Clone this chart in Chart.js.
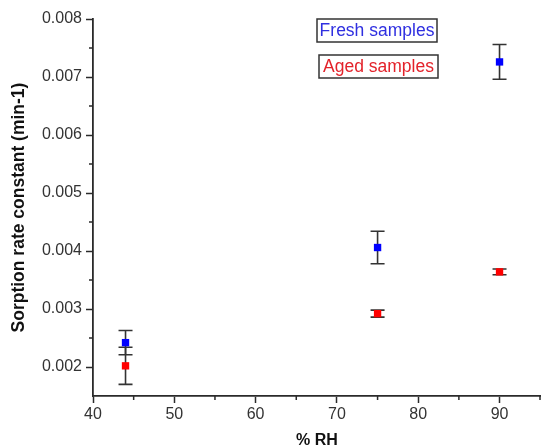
<!DOCTYPE html>
<html>
<head>
<meta charset="utf-8">
<script src="https://cdn.jsdelivr.net/npm/chart.js@4/dist/chart.umd.min.js"></script>
<style>
  html, body { margin: 0; padding: 0; background: #fff; }
  #wrap { width: 541px; height: 448px; position: relative; }
</style>
</head>
<body>
<div id="wrap"><canvas id="c" width="541" height="448"></canvas></div>
<script>
// ---- data ----
const rhValues   = [44, 75, 90];
const freshRate  = [0.00242, 0.00406, 0.00726];
const freshError = [0.00021, 0.00028, 0.00030];
const agedRate   = [0.00202, 0.00292, 0.00364];
const agedError  = [0.00032, 0.00006, 0.00005];
const xTickValues = [40, 50, 60, 70, 80, 90];
const xMinorTicks = [45, 55, 65, 75, 85, 95];
const yTickValues = [0.002, 0.003, 0.004, 0.005, 0.006, 0.007, 0.008];
const yMinorTicks = [0.0025, 0.0035, 0.0045, 0.0055, 0.0065, 0.0075];
const seriesNames = ['Fresh samples', 'Aged samples'];

const AXIS = '#2a2a2a';
const FONT = "'Liberation Sans', Arial, Helvetica, sans-serif";

const errorBars = {
  id: 'errorBars',
  beforeDatasetsDraw(chart) {
    const ctx = chart.ctx;
    const xs = chart.scales.x, ys = chart.scales.y;
    ctx.save();
    ctx.strokeStyle = '#333';
    ctx.lineWidth = 1.6;
    chart.data.datasets.forEach(ds => {
      ds.data.forEach((p, i) => {
        const x = xs.getPixelForValue(p.x);
        const yTop = ys.getPixelForValue(p.y + ds.errors[i]);
        const yBot = ys.getPixelForValue(p.y - ds.errors[i]);
        const half = 7;
        ctx.beginPath();
        ctx.moveTo(x, yTop); ctx.lineTo(x, yBot);
        ctx.moveTo(x - half, yTop); ctx.lineTo(x + half, yTop);
        ctx.moveTo(x - half, yBot); ctx.lineTo(x + half, yBot);
        ctx.stroke();
      });
    });
    ctx.restore();
  }
};

const minorTicks = {
  id: 'minorTicks',
  afterDraw(chart) {
    const ctx = chart.ctx;
    const xs = chart.scales.x, ys = chart.scales.y;
    ctx.save();
    ctx.strokeStyle = AXIS;
    ctx.lineWidth = 1.5;
    ctx.beginPath();
    xMinorTicks.forEach(v => {
      const px = Math.min(xs.getPixelForValue(v), chart.width - 1);
      ctx.moveTo(px, xs.top); ctx.lineTo(px, xs.top + 4);
    });
    yMinorTicks.forEach(v => {
      const py = ys.getPixelForValue(v);
      ctx.moveTo(ys.right, py); ctx.lineTo(ys.right - 4, py);
    });
    ctx.stroke();
    ctx.restore();
  }
};

const boxLegend = {
  id: 'boxLegend',
  afterDraw(chart) {
    const ctx = chart.ctx;
    const boxes = [
      { x: 317, y: 19, w: 120, h: 23 },
      { x: 319, y: 55, w: 119, h: 23 }
    ];
    ctx.save();
    ctx.font = '17.5px ' + FONT;
    ctx.textBaseline = 'middle';
    ctx.textAlign = 'center';
    chart.data.datasets.forEach((ds, i) => {
      const b = boxes[i];
      ctx.fillStyle = '#fff';
      ctx.fillRect(b.x, b.y, b.w, b.h);
      ctx.strokeStyle = '#333';
      ctx.lineWidth = 1.5;
      ctx.strokeRect(b.x, b.y, b.w, b.h);
      ctx.fillStyle = ds.textColor;
      ctx.fillText(ds.label, b.x + b.w / 2, b.y + b.h / 2 + 1);
    });
    ctx.restore();
  }
};

new Chart(document.getElementById('c'), {
  type: 'scatter',
  data: {
    datasets: [
      {
        label: seriesNames[0],
        data: rhValues.map((x, i) => ({ x, y: freshRate[i] })),
        errors: freshError,
        backgroundColor: '#0000ff',
        borderColor: '#0000ff',
        borderWidth: 0,
        pointStyle: 'rect',
        pointRadius: 5.2,
        textColor: '#2f2fe0'
      },
      {
        label: seriesNames[1],
        data: rhValues.map((x, i) => ({ x, y: agedRate[i] })),
        errors: agedError,
        backgroundColor: '#ff0000',
        borderColor: '#ff0000',
        borderWidth: 0,
        pointStyle: 'rect',
        pointRadius: 5.2,
        textColor: '#e3222a'
      }
    ]
  },
  options: {
    responsive: false,
    animation: false,
    layout: { autoPadding: false, padding: { top: 19, right: 0, bottom: 0, left: 0 } },
    plugins: { legend: { display: false }, tooltip: { enabled: false } },
    scales: {
      x: {
        type: 'linear',
        min: 40,
        max: 95.1,
        afterBuildTicks: s => { s.ticks = xTickValues.map(v => ({ value: v })); },
        afterFit: s => { s.height = 52; s.paddingRight = 0; },
        grid: { drawOnChartArea: false, drawTicks: true, tickLength: 7, color: AXIS, tickWidth: 1.5 },
        border: { display: true, color: AXIS, width: 1.8 },
        ticks: { color: '#333', font: { family: FONT, size: 16 }, padding: 2, maxRotation: 0 },
        title: {
          display: true, text: '% RH', color: '#111',
          font: { family: FONT, size: 16, weight: 'bold', lineHeight: 1 },
          padding: { top: 0, bottom: -1 }
        }
      },
      y: {
        type: 'linear',
        min: 0.0015,
        max: 0.008,
        afterBuildTicks: s => { s.ticks = yTickValues.map(v => ({ value: v })); },
        afterFit: s => { s.width = 93; },
        grid: { drawOnChartArea: false, drawTicks: true, tickLength: 7, color: AXIS, tickWidth: 1.5 },
        border: { display: true, color: AXIS, width: 1.8 },
        ticks: {
          color: '#333', font: { family: FONT, size: 16 }, padding: 4,
          callback: v => Number(v).toFixed(3)
        },
        title: {
          display: true, text: 'Sorption rate constant (min-1)', color: '#111',
          font: { family: FONT, size: 17.5, weight: 'bold', lineHeight: 1.2 },
          padding: { top: 9, bottom: 0 }
        }
      }
    }
  },
  plugins: [errorBars, minorTicks, boxLegend]
});
</script>
</body>
</html>
